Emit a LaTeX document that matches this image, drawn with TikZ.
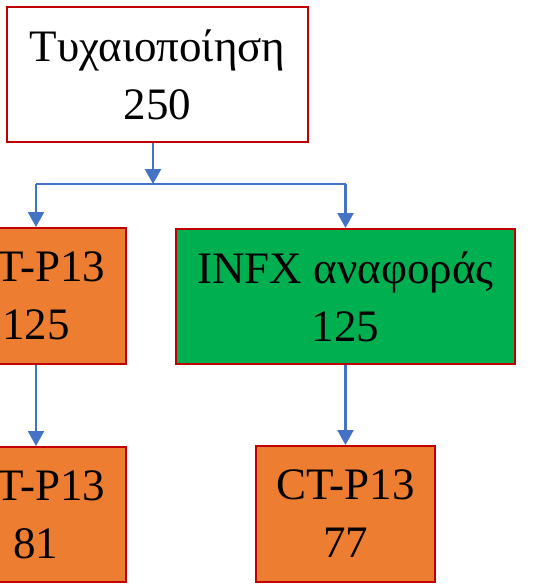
\documentclass[tikz,border=0pt]{standalone}
\usepackage{fontspec}
\setmainfont{Liberation Serif}
\usetikzlibrary{arrows.meta}

\definecolor{boxred}{HTML}{C00000}
\definecolor{boxorange}{HTML}{ED7D31}
\definecolor{boxgreen}{HTML}{00B050}
\definecolor{linkblue}{HTML}{4472C4}

\tikzset{
  box/.style={draw=boxred, line width=2pt, inner sep=0pt, align=center,
    font=\fontsize{45}{58}\selectfont},
  link/.style={draw=linkblue, line width=2.4pt,
    -{Triangle[length=15pt,width=16pt]}}
}

\begin{document}
\begin{tikzpicture}[x=1pt, y=-1pt]
    \useasboundingbox (0,0) rectangle (552,584);
    \clip (0,0) rectangle (552,584);

        % Draw the boxes
    \node[box, fill=white, minimum width=301pt, minimum height=135pt] (rand) at (157.5,74.5) {Τυχαιοποίηση\\250};
    \node[box, fill=boxorange, minimum width=180pt, minimum height=136pt] (ctp) at (36,296) {CT-P13\\125};
    \node[box, fill=boxgreen, minimum width=339pt, minimum height=135pt] (infx) at (345.5,296.5) {INFX αναφοράς\\125};
    \node[box, fill=boxorange, minimum width=180pt, minimum height=135pt] (ctpa) at (36,514.5) {CT-P13\\81};
    \node[box, fill=boxorange, minimum width=179pt, minimum height=136pt] (infxa) at (345.5,514) {CT-P13\\77};

        % Split points
    \coordinate (split) at (153,184);
    \coordinate (lsplit) at (36,184);
    \coordinate (rsplit) at (345.5,184);

        % Draw the connectors
    \draw[link] (split |- rand.south) -- (split);
    \draw[draw=linkblue, line width=2.2pt] (lsplit) -- (rsplit);
    \draw[link] (lsplit) -- (ctp.north);
    \draw[link] (rsplit) -- (infx.north);
    \draw[link] (ctp.south) -- (ctpa.north);
    \draw[link] (infx.south -| rsplit) -- (infxa.north);
  \end{tikzpicture}
\end{document}
